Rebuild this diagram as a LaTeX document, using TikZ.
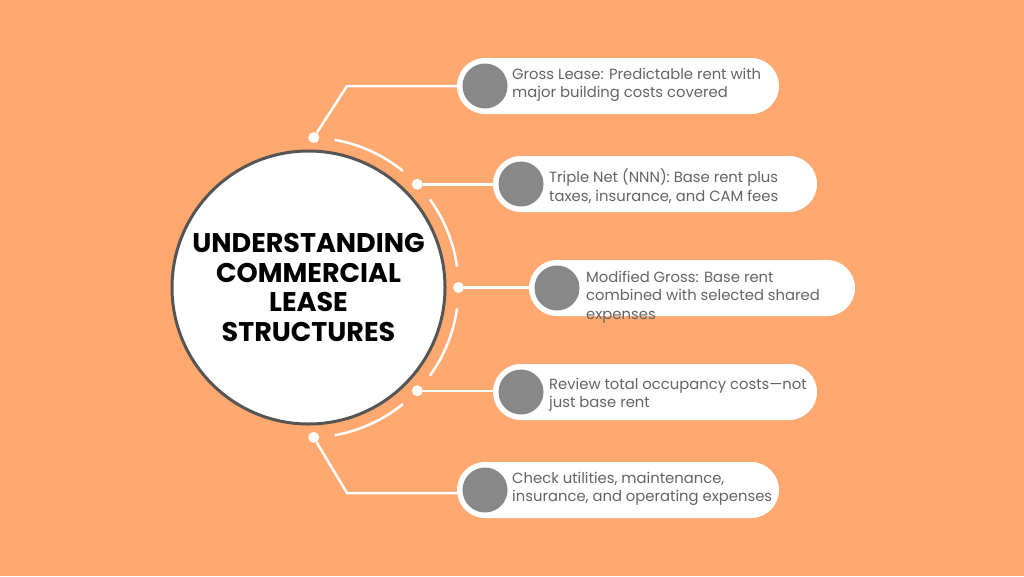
\documentclass[tikz,border=0pt]{standalone}
\usepackage{fontspec}
\setmainfont{Poppins}
\usetikzlibrary{calc}
\definecolor{bgorange}{HTML}{FFA86F}
\definecolor{badgegrey}{HTML}{888888}
\definecolor{rimgrey}{HTML}{555555}
\definecolor{textgrey}{HTML}{646464}

\begin{document}
\begin{tikzpicture}[x=1pt,y=-1pt,
  pill/.style={fill=white,rounded corners=28pt,minimum height=56pt,minimum width=#1},
  badge/.style={circle,fill=badgegrey,minimum size=45pt,inner sep=0pt},
  label/.style={anchor=west,inner sep=0pt,align=left,text=textgrey,
    font=\fontsize{14.8}{18.5}\selectfont},
  dot/.style={circle,fill=white,minimum size=11pt,inner sep=0pt},
  wire/.style={white,line width=2.5pt}]
  \fill[bgorange] (0,0) rectangle (1024,576);
  \useasboundingbox (0,0) rectangle (1024,576);

  % centre disc
  \node[circle,fill=white,draw=rimgrey,line width=3pt,minimum size=273pt,align=center,
    font=\fontsize{27}{29.5}\selectfont\bfseries] (hub) at (308.5,287.5)
    {UNDERSTANDING\\COMMERCIAL\\LEASE\\STRUCTURES};

  % outer ring, broken at the dots (y axis is flipped, so angles are negated)
  \draw[wire] (hub.center) ++(-80:150) arc[start angle=-80,end angle=-51,radius=150];
  \draw[wire] (hub.center) ++(-36:150) arc[start angle=-36,end angle=-8,radius=150];
  \draw[wire] (hub.center) ++(8:150) arc[start angle=8,end angle=36,radius=150];
  \draw[wire] (hub.center) ++(51:150) arc[start angle=51,end angle=80,radius=150];

  \node[dot] (d1) at ($(hub.center)+(-88:150)$) {};
  \node[dot] (d2) at ($(hub.center)+(-43.5:150)$) {};
  \node[dot] (d3) at ($(hub.center)+(0:150)$) {};
  \node[dot] (d4) at ($(hub.center)+(43.5:150)$) {};
  \node[dot] (d5) at ($(hub.center)+(88:150)$) {};

  % pills
  \node[pill=322pt] (p1) at (618,86) {};
  \node[pill=324pt] (p2) at (655,184) {};
  \node[pill=326pt] (p3) at (692,288) {};
  \node[pill=324pt] (p4) at (655,392) {};
  \node[pill=322pt] (p5) at (618,490) {};

  \node[badge] (b1) at (485,86) {};
  \node[badge] (b2) at (521,184) {};
  \node[badge] (b3) at (557,288) {};
  \node[badge] (b4) at (521,392) {};
  \node[badge] (b5) at (485,490) {};

  \node[label] (t1) at (512,85) {Gross Lease: Predictable rent with\\major building costs covered};
  \node[label] (t2) at (549,186) {Triple Net (NNN): Base rent plus\\taxes, insurance, and CAM fees};
  \node[label] (t3) at (586,297) {Modified Gross: Base rent\\combined with selected shared\\expenses};
  \node[label] (t4) at (549,395) {Review total occupancy costs—not\\just base rent};
  \node[label] (t5) at (512,489) {Check utilities, maintenance,\\insurance, and operating expenses};

  % leaders
  \coordinate (k1) at (347,86);
  \coordinate (k5) at (347,493);
  \draw[wire] (d1) -- (k1) -- (p1);
  \draw[wire] (d2) -- (p2.west |- d2);
  \draw[wire] (d3) -- (p3.west |- d3);
  \draw[wire] (d4) -- (p4.west |- d4);
  \draw[wire] (d5) -- (k5) -- (p5.west |- k5);
\end{tikzpicture}
\end{document}
